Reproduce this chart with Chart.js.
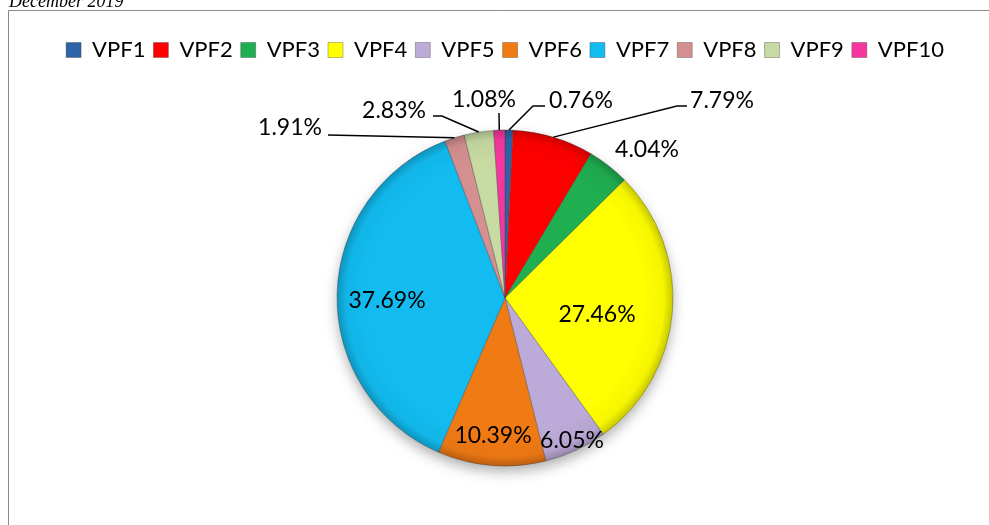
<!DOCTYPE html>
<html>
<head>
<meta charset="utf-8">
<script src="https://cdn.jsdelivr.net/npm/chart.js@4.4.1/dist/chart.umd.min.js"></script>
<style>
  html, body { margin: 0; padding: 0; background: #ffffff; }
  #wrap { position: relative; width: 989px; height: 525px; }
  canvas { display: block; }
</style>
</head>
<body>
<div id="wrap"><canvas id="c" width="989" height="525"></canvas></div>
<script>
// ---- data ----
const categories = ['VPF1', 'VPF2', 'VPF3', 'VPF4', 'VPF5', 'VPF6', 'VPF7', 'VPF8', 'VPF9', 'VPF10'];
const shares = [0.76, 7.79, 4.04, 27.46, 6.05, 10.39, 37.69, 1.91, 2.83, 1.08];
const caption = 'December 2019';

// ---- style ----
const sliceColors = ['#2f63a8', '#ff0000', '#1fae50', '#ffff00', '#bcaad8',
                     '#f07a14', '#12bcf0', '#d49090', '#c7daa2', '#f5369e'];
const labelFont = '23px Lato';
// label centre offsets from pie centre, optional leader line (anchor offset from label centre, elbow)
const labelPlacement = [
  { dx: 76,   dy: -197, anchor: [-36, 5],  elbow: -12 },
  { dx: 217,  dy: -197, anchor: [-35, 5],  elbow: -10 },
  { dx: 142,  dy: -148 },
  { dx: 92,   dy: 17 },
  { dx: 67,   dy: 143 },
  { dx: -12,  dy: 138 },
  { dx: -118, dy: 3 },
  { dx: -215, dy: -170, anchor: [38, 7],   elbow: 0 },
  { dx: -111, dy: -187, anchor: [39, 5],   elbow: 9 },
  { dx: -21,  dy: -198, anchor: [15, 13],  elbow: 0 }
];

const framePlugin = {
  id: 'frame',
  beforeDraw(chart) {
    const ctx = chart.ctx;
    ctx.save();
    ctx.fillStyle = '#ffffff';
    ctx.fillRect(0, 0, chart.width, chart.height);
    ctx.strokeStyle = '#8a8a8a';
    ctx.lineWidth = 1;
    ctx.beginPath();
    ctx.moveTo(8.5, chart.height + 2);
    ctx.lineTo(8.5, 10.5);
    ctx.lineTo(chart.width + 2, 10.5);
    ctx.stroke();
    ctx.fillStyle = '#000000';
    ctx.font = 'italic 18px "Liberation Serif"';
    ctx.textBaseline = 'alphabetic';
    ctx.textAlign = 'left';
    ctx.fillText(caption, 9, 7);
    ctx.restore();
  }
};

const shadePlugin = {
  id: 'shade',
  beforeDatasetsDraw(chart) {
    const meta = chart.getDatasetMeta(0);
    if (!meta.data.length) return;
    const p = meta.data[0].getProps(['x', 'y', 'outerRadius'], true);
    const ctx = chart.ctx;
    ctx.save();
    ctx.shadowColor = 'rgba(0,0,0,0.35)';
    ctx.shadowBlur = 14;
    ctx.shadowOffsetY = 6;
    ctx.fillStyle = '#ffffff';
    ctx.beginPath();
    ctx.arc(p.x, p.y, p.outerRadius - 1, 0, Math.PI * 2);
    ctx.fill();
    ctx.restore();
  },
  afterDatasetsDraw(chart) {
    const meta = chart.getDatasetMeta(0);
    const ctx = chart.ctx;
    ctx.save();
    meta.data.forEach((el) => {
      const a = el.getProps(['x', 'y', 'startAngle', 'endAngle', 'outerRadius'], true);
      const g = ctx.createRadialGradient(a.x, a.y, a.outerRadius * 0.82, a.x, a.y, a.outerRadius);
      g.addColorStop(0, 'rgba(0,0,0,0)');
      g.addColorStop(0.7, 'rgba(0,0,0,0.04)');
      g.addColorStop(1, 'rgba(0,0,0,0.22)');
      ctx.fillStyle = g;
      ctx.beginPath();
      ctx.moveTo(a.x, a.y);
      ctx.arc(a.x, a.y, a.outerRadius, a.startAngle, a.endAngle);
      ctx.closePath();
      ctx.fill();
    });
    ctx.restore();
  }
};

const labelPlugin = {
  id: 'valueLabels',
  afterDatasetsDraw(chart) {
    const meta = chart.getDatasetMeta(0);
    const ctx = chart.ctx;
    ctx.save();
    ctx.font = labelFont;
    ctx.fillStyle = '#000000';
    ctx.textAlign = 'center';
    ctx.textBaseline = 'middle';
    meta.data.forEach((el, i) => {
      const a = el.getProps(['x', 'y', 'startAngle', 'endAngle', 'outerRadius'], true);
      const pl = labelPlacement[i];
      const lx = a.x + pl.dx, ly = a.y + pl.dy;
      if (pl.anchor) {
        const mid = (a.startAngle + a.endAngle) / 2;
        const ex = a.x + a.outerRadius * Math.cos(mid);
        const ey = a.y + a.outerRadius * Math.sin(mid);
        const sx = lx + pl.anchor[0], sy = ly + pl.anchor[1];
        ctx.strokeStyle = '#000000';
        ctx.lineWidth = 1.5;
        ctx.beginPath();
        ctx.moveTo(sx, sy);
        ctx.lineTo(sx + pl.elbow, sy);
        ctx.lineTo(ex, ey);
        ctx.stroke();
      }
      ctx.fillText(shares[i].toFixed(2) + '%', lx, ly);
    });
    ctx.restore();
  }
};

new Chart(document.getElementById('c'), {
  type: 'pie',
  data: {
    labels: categories,
    datasets: [{
      data: shares,
      backgroundColor: sliceColors,
      borderColor: 'rgba(60,60,60,0.35)',
      borderWidth: 1,
      radius: 168
    }]
  },
  options: {
    responsive: false,
    animation: false,
    layout: { padding: { top: 31, bottom: -4, left: 21, right: 0 } },
    plugins: {
      legend: {
        position: 'top',
        labels: {
          boxWidth: 15,
          boxHeight: 15,
          padding: 8,
          color: '#000000',
          font: { family: 'Lato', size: 22 }
        }
      },
      tooltip: { enabled: false }
    }
  },
  plugins: [framePlugin, shadePlugin, labelPlugin]
});
</script>
</body>
</html>
